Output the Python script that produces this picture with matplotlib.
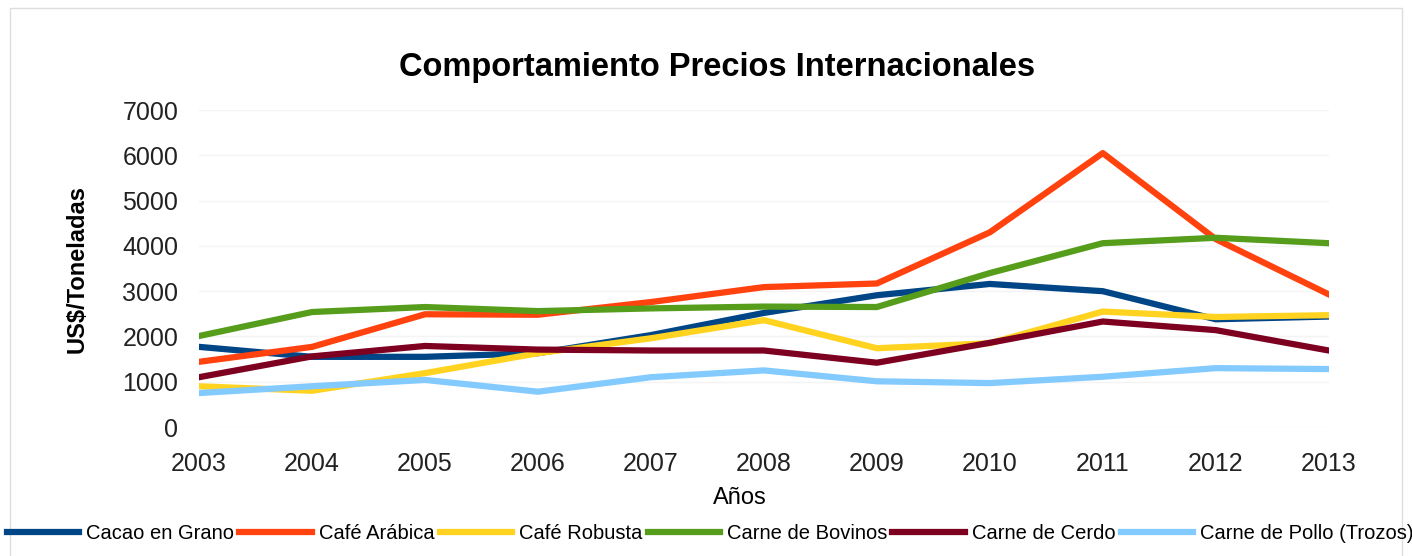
import numpy as np
import matplotlib.pyplot as plt
from matplotlib.patches import Rectangle

plt.rcParams['font.family'] = ['Liberation Sans', 'DejaVu Sans']

years = [2003, 2004, 2005, 2006, 2007, 2008, 2009, 2010, 2011, 2012, 2013]
series_names = ["Cacao en Grano", "Café Arábica", "Café Robusta",
                "Carne de Bovinos", "Carne de Cerdo", "Carne de Pollo (Trozos)"]
cacao = [1770, 1550, 1550, 1630, 2030, 2520, 2910, 3160, 3000, 2380, 2440]
arabica = [1440, 1770, 2490, 2480, 2760, 3090, 3170, 4300, 6050, 4150, 2930]
robusta = [900, 800, 1190, 1630, 1960, 2360, 1740, 1850, 2550, 2430, 2470]
bovinos = [2010, 2540, 2650, 2560, 2620, 2660, 2650, 3400, 4060, 4180, 4060]
cerdo = [1100, 1560, 1790, 1710, 1690, 1690, 1420, 1860, 2330, 2140, 1690]
pollo = [750, 900, 1040, 780, 1100, 1250, 1010, 970, 1110, 1300, 1280]
colors = ["#004586", "#ff420e", "#ffd320", "#579d1c", "#7e0021", "#83caff"]

fig = plt.figure(figsize=(14.12, 5.56), dpi=100)
ax = fig.add_axes((0.141, 0.232, 0.800, 0.570))

# faint outer frame like the original export
fig.patches.append(Rectangle((0.007, -0.01), 0.986, 0.995, transform=fig.transFigure,
                             fill=False, edgecolor='#dddddd', linewidth=1))

for vals, name, c in zip([cacao, arabica, robusta, bovinos, cerdo, pollo], series_names, colors):
    ax.plot(years, vals, color=c, linewidth=4.5, label=name, solid_joinstyle='round')

ax.set_xlim(2003, 2013)
ax.set_ylim(0, 7000)
ax.set_xticks(years)
ax.set_yticks(range(0, 7001, 1000))
ax.tick_params(axis='both', length=0, labelsize=18, colors='#222222')
ax.tick_params(axis='x', pad=18)
ax.tick_params(axis='y', pad=15)
ax.grid(axis='y', color='#f4f4f4', linewidth=1)
ax.set_axisbelow(True)
for s in ax.spines.values():
    s.set_visible(False)

fig.text(0.508, 0.878, "Comportamiento Precios Internacionales", fontsize=23.5,
         fontweight='bold', ha='center', va='center')
ax.set_xlabel("Años", fontsize=17)
ax.xaxis.set_label_coords(0.479, -0.19)
ax.set_ylabel("US$/Toneladas", fontsize=17, fontweight='bold', labelpad=24)

fig.legend(loc='lower center', bbox_to_anchor=(0.503, -0.01), ncol=6, frameon=False,
           fontsize=14.5, handlelength=3.6, handletextpad=0.35, columnspacing=0.25)

fig.savefig("out.png", dpi=100)
